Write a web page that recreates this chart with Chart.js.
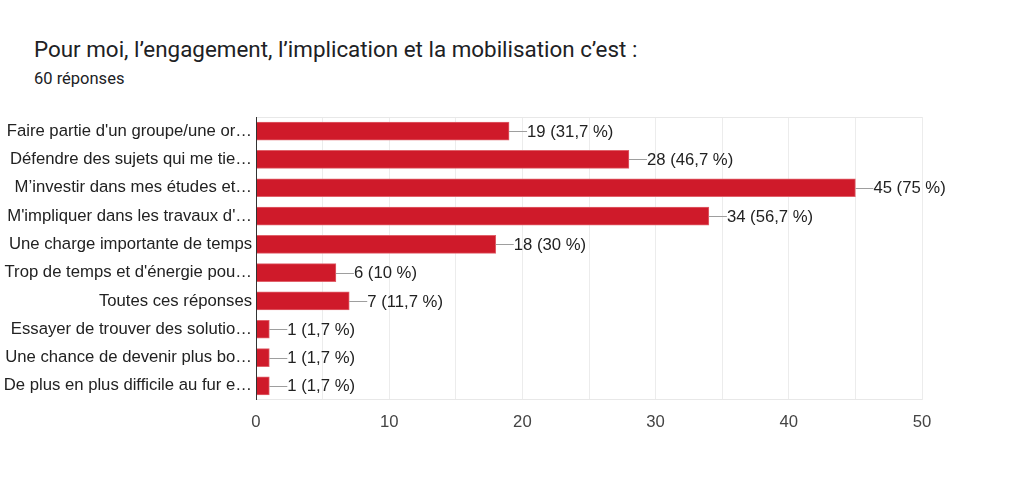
<!DOCTYPE html>
<html>
<head>
<meta charset="utf-8">
<script src="https://cdn.jsdelivr.net/npm/chart.js@4/dist/chart.umd.min.js"></script>
<style>
  html, body { margin: 0; padding: 0; background: #fff; }
  #wrap { position: relative; width: 1024px; height: 487px; overflow: hidden; }
  #title { position: absolute; left: 34px; top: 36px; font: 22.4px Roboto, Arial, sans-serif; color: #202124; white-space: nowrap; }
  #sub { position: absolute; left: 34px; top: 69px; font: 16.5px Roboto, Arial, sans-serif; color: #202124; white-space: nowrap; }
  canvas { position: absolute; left: 0; top: 0; }
</style>
</head>
<body>
<div id="wrap">
  <div id="title">Pour moi, l’engagement, l’implication et la mobilisation c’est :</div>
  <div id="sub">60 réponses</div>
  <canvas id="c" width="1024" height="487"></canvas>
</div>
<script>
const categories = [
  "Faire partie d'un groupe/une or…",
  "Défendre des sujets qui me tie…",
  "M’investir dans mes études et…",
  "M'impliquer dans les travaux d'…",
  "Une charge importante de temps",
  "Trop de temps et d'énergie pou…",
  "Toutes ces réponses",
  "Essayer de trouver des solutio…",
  "Une chance de devenir plus bo…",
  "De plus en plus difficile au fur e…"
];
const counts = [19, 28, 45, 34, 18, 6, 7, 1, 1, 1];
const percents = ["31,7", "46,7", "75", "56,7", "30", "10", "11,7", "1,7", "1,7", "1,7"];
const xTicks = [0, 10, 20, 30, 40, 50];

const FONT = "'Liberation Sans', Arial, sans-serif";

const decor = {
  id: 'decor',
  beforeDatasetsDraw(chart) {
    const { ctx, chartArea: a } = chart;
    ctx.save();
    ctx.strokeStyle = '#e8e8e8';
    ctx.lineWidth = 1;
    ctx.beginPath();
    ctx.moveTo(a.left, a.top + 0.5); ctx.lineTo(a.right, a.top + 0.5);
    ctx.moveTo(a.left, a.bottom - 0.5); ctx.lineTo(a.right, a.bottom - 0.5);
    ctx.stroke();
    ctx.restore();
  },
  afterDatasetsDraw(chart) {
    const { ctx, chartArea: a } = chart;
    const meta = chart.getDatasetMeta(0);
    ctx.save();
    ctx.strokeStyle = '#333';
    ctx.lineWidth = 1;
    ctx.beginPath();
    ctx.moveTo(Math.round(a.left) + 0.5, a.top);
    ctx.lineTo(Math.round(a.left) + 0.5, a.bottom);
    ctx.stroke();
    meta.data.forEach((bar, i) => {
      const x = bar.x, y = bar.y;
      ctx.strokeStyle = '#9e9e9e';
      ctx.lineWidth = 1;
      ctx.beginPath();
      ctx.moveTo(x, Math.round(y) + 0.5);
      ctx.lineTo(x + 18, Math.round(y) + 0.5);
      ctx.stroke();
      ctx.fillStyle = '#222';
      ctx.font = '16.7px ' + FONT;
      ctx.textBaseline = 'middle';
      ctx.textAlign = 'left';
      ctx.fillText(counts[i] + ' (' + percents[i] + ' %)', x + 18, y + 1);
    });
    ctx.restore();
  }
};

new Chart(document.getElementById('c'), {
  type: 'bar',
  data: {
    labels: categories,
    datasets: [{
      data: counts,
      backgroundColor: '#cf1a2a',
      borderColor: '#e0616a',
      borderWidth: 1,
      borderSkipped: 'left',
      barThickness: 18
    }]
  },
  options: {
    indexAxis: 'y',
    responsive: false,
    animation: false,
    devicePixelRatio: 1,
    layout: { padding: { top: 117, right: 102, bottom: 0, left: 0 } },
    plugins: { legend: { display: false }, tooltip: { enabled: false } },
    scales: {
      x: {
        min: 0, max: 50,
        ticks: {
          stepSize: 5,
          autoSkip: false,
          maxRotation: 0,
          color: '#444',
          font: { family: FONT, size: 16.7 },
          padding: 12,
          callback: (v) => xTicks.includes(v) ? String(v) : ''
        },
        grid: { color: '#ececec', drawTicks: false },
        border: { display: false },
        afterFit(scale) { scale.height = 87; }
      },
      y: {
        ticks: {
          color: '#222',
          font: { family: FONT, size: 16.7 },
          padding: 4,
          autoSkip: false
        },
        grid: { display: false, drawTicks: false },
        border: { display: false },
        afterFit(scale) { scale.width = 256; }
      }
    }
  },
  plugins: [decor]
});
</script>
</body>
</html>
